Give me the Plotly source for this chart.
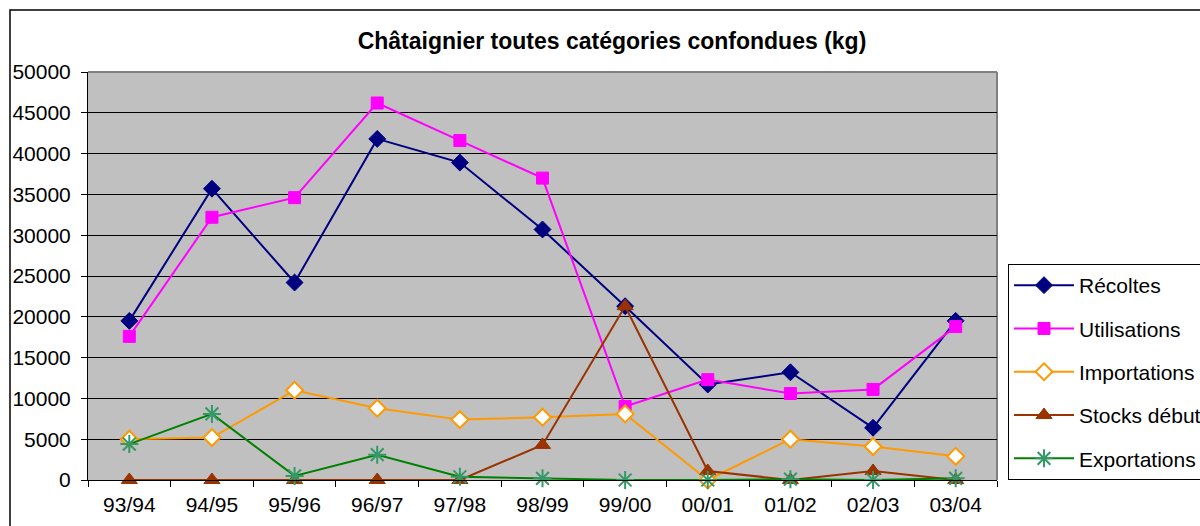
import plotly.graph_objects as go

categories = ["93/94", "94/95", "95/96", "96/97", "97/98", "98/99", "99/00", "00/01", "01/02", "02/03", "03/04"]
recoltes = [19500, 35700, 24200, 41800, 38900, 30700, 21300, 11700, 13200, 6400, 19500]
utilisations = [17600, 32200, 34600, 46200, 41600, 37000, 9000, 12300, 10600, 11100, 18800]
importations = [5000, 5200, 11000, 8800, 7400, 7700, 8100, 0, 5000, 4100, 2900]
stocks_debut = [0, 0, 0, 0, 0, 4300, 21300, 1100, 0, 1100, 0]
exportations = [4400, 8100, 500, 3100, 400, 200, 0, 0, 100, 0, 200]

y_ticks = [0, 5000, 10000, 15000, 20000, 25000, 30000, 35000, 40000, 45000, 50000]

W, H = 1200, 526
L, R, T, B = 88, 203, 72, 46

fig = go.Figure()

series = [
    ("Récoltes", recoltes, dict(color="#000080", width=2),
     dict(symbol="diamond", size=13, color="#000080", line=dict(color="#000080", width=1))),
    ("Utilisations", utilisations, dict(color="#FF00FF", width=2),
     dict(symbol="square", size=12, color="#FF00FF", line=dict(color="#FF00FF", width=1))),
    ("Importations", importations, dict(color="#FF9900", width=2),
     dict(symbol="diamond", size=13, color="white", line=dict(color="#FF9900", width=2))),
    ("Stocks début", stocks_debut, dict(color="#993300", width=2),
     dict(symbol="triangle-up", size=14, color="#993300", line=dict(color="#993300", width=1))),
    ("Exportations", exportations, dict(color="#008000", width=2),
     dict(symbol="asterisk-open", size=15, color="#339966", line=dict(color="#339966", width=2))),
]

for i, (name, vals, line, marker) in enumerate(series):
    fig.add_trace(go.Scatter(
        x=categories, y=vals, name=name, mode="lines+markers",
        line=line, marker=marker, cliponaxis=False, legendgroup=f"g{i}",
    ))

# plot area gray border (top and right)
fig.add_shape(type="line", xref="paper", yref="paper", x0=0, x1=1, y0=1, y1=1,
              line=dict(color="#808080", width=2), layer="below")
fig.add_shape(type="line", xref="paper", yref="paper", x0=1, x1=1, y0=0, y1=1,
              line=dict(color="#808080", width=2), layer="below")

# outer chart border (extends beyond visible window)
pw, ph = W - L - R, H - T - B
fig.add_shape(type="rect", xref="paper", yref="paper",
              x0=(10 - L) / pw, x1=(1260 - L) / pw,
              y0=(H - B - 560) / ph, y1=(H - B - 10) / ph,
              line=dict(color="black", width=1.5), fillcolor="rgba(0,0,0,0)", layer="below")

fig.update_layout(
    width=W, height=H,
    margin=dict(l=L, r=R, t=T, b=B, autoexpand=False),
    paper_bgcolor="white", plot_bgcolor="#C0C0C0",
    font=dict(family="Liberation Sans, Arial, sans-serif", size=21, color="black"),
    title=dict(text="<b>Châtaignier toutes catégories confondues (kg)</b>",
               x=(612) / W, xanchor="center", y=1 - 41 / H, yanchor="middle",
               xref="container", font=dict(size=23, color="black")),
    showlegend=True,
    legend=dict(x=(1008 - L) / pw, xanchor="left", y=1 - (264 - T) / ph, yanchor="top",
                bgcolor="white", bordercolor="black", borderwidth=1,
                font=dict(size=21, color="black"), tracegroupgap=13,
                itemwidth=60),
    xaxis=dict(type="category", tickson="boundaries", ticks="outside", ticklen=6,
               tickcolor="black", showgrid=False, showline=True, linecolor="black",
               linewidth=1, tickfont=dict(size=21), ticklabelstandoff=6,
               range=[-0.5, 10.5]),
    yaxis=dict(range=[0, 50000], tickvals=y_ticks, ticktext=[str(v) for v in y_ticks],
               ticks="outside", ticklen=6, tickcolor="black", showgrid=True,
               gridcolor="black", gridwidth=1, showline=True, linecolor="black",
               linewidth=1, zeroline=False, tickfont=dict(size=21), ticklabelstandoff=6),
)

fig.write_html("out.html", config={"displayModeBar": False},
               post_script="document.body.style.margin='0';document.body.style.overflow='hidden';")
